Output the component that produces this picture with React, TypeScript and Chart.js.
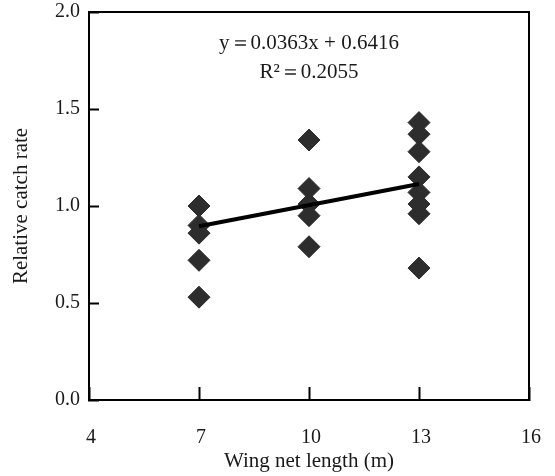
import React, { useEffect, useRef } from "react";
import { Chart, registerables } from "chart.js";

Chart.register(...registerables);

// Data
const wingLengths = [7, 10, 13];
const rates7 = [1.0, 0.9, 0.86, 0.72, 0.53];
const rates10 = [1.34, 1.09, 1.01, 0.95, 0.79];
const rates13 = [1.43, 1.37, 1.28, 1.15, 1.07, 1.01, 0.96, 0.68];
const slope = 0.0363;
const intercept = 0.6416;
const fitRange = [7, 13];
const eqLine1 = "y\uFF1D0.0363x + 0.6416";
const eqLine2 = "R\u00B2\uFF1D0.2055";
const xTicks = [4, 7, 10, 13, 16];
const yTicks = [0, 0.5, 1.0, 1.5, 2.0];

const FONT = "'Liberation Serif', 'Times New Roman', serif";
const TEXT = "#1a1a1a";

export default function App() {
  const ref = useRef<HTMLCanvasElement | null>(null);

  useEffect(() => {
    if (!ref.current) return;
    const groups = [rates7, rates10, rates13];
    const points: { x: number; y: number }[] = [];
    groups.forEach((g, i) => g.forEach((v) => points.push({ x: wingLengths[i], y: v })));
    const fitPts = fitRange.map((x) => ({ x, y: slope * x + intercept }));

    const framePlugin = {
      id: "frame",
      afterDraw(chart: any) {
        const { ctx, chartArea, scales } = chart;
        ctx.save();
        ctx.strokeStyle = "#000";
        ctx.lineWidth = 2;
        ctx.strokeRect(chartArea.left, chartArea.top, chartArea.right - chartArea.left, chartArea.bottom - chartArea.top);
        ctx.fillStyle = TEXT;
        ctx.font = `21px ${FONT}`;
        ctx.textAlign = "center";
        ctx.textBaseline = "middle";
        const cx = scales.x.getPixelForValue(10);
        ctx.fillText(eqLine1, cx, scales.y.getPixelForValue(1.836));
        ctx.fillText(eqLine2, cx, scales.y.getPixelForValue(1.687));
        ctx.restore();
      },
    };

    const noPad = (s: any) => {
      s.paddingTop = 0;
      s.paddingBottom = 0;
      s.paddingLeft = 0;
      s.paddingRight = 0;
    };

    const chart = new Chart(ref.current, {
      type: "scatter",
      data: {
        datasets: [
          {
            type: "line",
            data: fitPts,
            borderColor: "#000",
            borderWidth: 4,
            pointRadius: 0,
            fill: false,
            order: 0,
          } as any,
          {
            data: points,
            pointStyle: "rectRot",
            pointRadius: 11,
            backgroundColor: "#2d2d2d",
            borderColor: "#2d2d2d",
            borderWidth: 1,
            order: 1,
          },
        ],
      },
      options: {
        animation: false,
        responsive: false,
        layout: { padding: { left: 0, top: 10, right: 26, bottom: 0 } },
        plugins: { legend: { display: false }, tooltip: { enabled: false } },
        scales: {
          x: {
            type: "linear",
            min: 4,
            max: 16,
            afterBuildTicks: (s: any) => {
              s.ticks = xTicks.map((v) => ({ value: v }));
            },
            afterFit: (s: any) => {
              s.height = 76;
              noPad(s);
            },
            grid: { drawOnChartArea: false, tickLength: -13, tickWidth: 2, tickColor: "#000" },
            border: { color: "#000", width: 2 },
            ticks: {
              padding: 39,
              labelOffset: 2,
              color: TEXT,
              font: { family: FONT, size: 20 },
              callback: (v: any) => String(v),
            },
            title: {
              display: true,
              text: "Wing net length (m)",
              color: TEXT,
              font: { family: FONT, size: 21 },
              padding: { top: 0, bottom: 2 },
            },
          },
          y: {
            type: "linear",
            min: 0,
            max: 2,
            afterBuildTicks: (s: any) => {
              s.ticks = yTicks.map((v) => ({ value: v }));
            },
            afterFit: (s: any) => {
              s.width = 89;
              noPad(s);
            },
            grid: { drawOnChartArea: false, tickLength: -10, tickWidth: 2, tickColor: "#000" },
            border: { color: "#000", width: 2 },
            ticks: {
              padding: 19,
              color: TEXT,
              font: { family: FONT, size: 20 },
              callback: (v: any) => Number(v).toFixed(1),
            },
            title: {
              display: true,
              text: "Relative catch rate",
              color: TEXT,
              font: { family: FONT, size: 21 },
              padding: { top: 9, bottom: 0 },
            },
          },
        },
      },
      plugins: [framePlugin],
    });
    return () => chart.destroy();
  }, []);

  return (
    <canvas
      ref={ref}
      width={555}
      height={476}
      style={{ position: "fixed", left: 0, top: 0, width: 555, height: 476, background: "#fff" }}
    />
  );
}
